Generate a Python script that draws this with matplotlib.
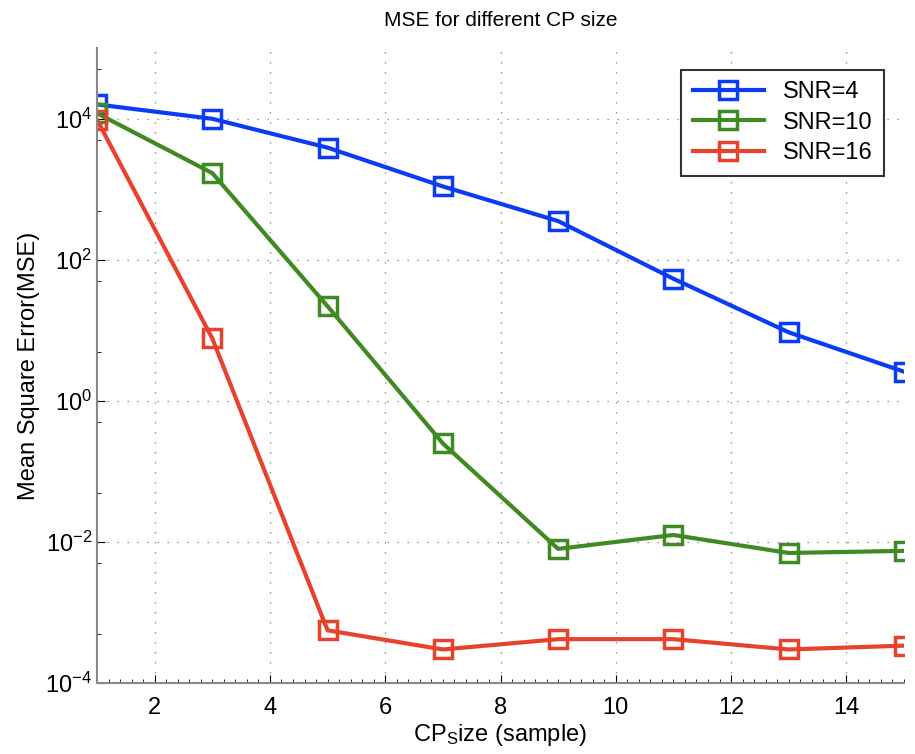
import matplotlib.pyplot as plt
from matplotlib.ticker import MultipleLocator, LogLocator, NullFormatter

plt.rcParams['font.family'] = ['Liberation Sans', 'DejaVu Sans']
plt.rcParams['mathtext.fontset'] = 'custom'
plt.rcParams['mathtext.rm'] = 'Liberation Sans'
plt.rcParams['mathtext.it'] = 'Liberation Sans'

# CP size (samples)
cp = [1, 3, 5, 7, 9, 11, 13, 15]
# MSE for each SNR
mse_snr4 = [1.6e4, 1.0e4, 3.9e3, 1.1e3, 355, 54, 9.4, 2.6]
mse_snr10 = [1.2e4, 1.7e3, 22, 0.25, 0.008, 0.0126, 0.007, 0.0075]
mse_snr16 = [9.7e3, 7.7, 5.6e-4, 3.0e-4, 4.2e-4, 4.2e-4, 3.0e-4, 3.4e-4]
labels = ['SNR=4', 'SNR=10', 'SNR=16']
colors = ['#0a3cf5', '#3f8a23', '#e8412c']

fig = plt.figure(figsize=(9.15, 7.54), dpi=100)
ax = fig.add_axes([0.106, 0.094, 0.882, 0.842])

for ys, lab, c in zip([mse_snr4, mse_snr10, mse_snr16], labels, colors):
    ax.plot(cp, ys, color=c, linewidth=3, marker='s', markersize=13,
            markerfacecolor='none', markeredgewidth=2.5, label=lab)

ax.set_yscale('log')
ax.set_xlim(1, 15)
ax.set_ylim(1e-4, 1e5)
ax.set_xticks([2, 4, 6, 8, 10, 12, 14])
ax.xaxis.set_minor_locator(MultipleLocator(0.2))
ax.set_yticks([1e-4, 1e-2, 1e0, 1e2, 1e4])
ax.yaxis.set_minor_locator(LogLocator(base=10, subs=(0.5,), numticks=20))
ax.yaxis.set_minor_formatter(NullFormatter())
ax.tick_params(axis='both', which='major', labelsize=17, direction='in', length=6)
ax.tick_params(axis='x', which='major', pad=10)
ax.tick_params(axis='both', which='minor', direction='in', length=3)
ax.grid(True, which='major', linestyle=(0, (1, 7)), color='#777777', linewidth=0.9)

for s in ['left', 'bottom']:
    ax.spines[s].set_color('#888888')
    ax.spines[s].set_linewidth(1.5)
for s in ['top', 'right']:
    ax.spines[s].set_visible(False)

ax.set_title('MSE for different CP size', fontsize=15, pad=16)
ax.set_xlabel('CP$_\\mathregular{S}$ize (sample)', fontsize=17, labelpad=2)
ax.set_ylabel('Mean Square Error(MSE)', fontsize=17, labelpad=4)

leg = ax.legend(loc='upper right', fontsize=17, fancybox=False, edgecolor='#333333',
                framealpha=1, handlelength=3, borderpad=0.5, labelspacing=0.35,
                bbox_to_anchor=(0.99, 0.985))
leg.get_frame().set_linewidth(1.5)

fig.savefig('out.png', dpi=100)
